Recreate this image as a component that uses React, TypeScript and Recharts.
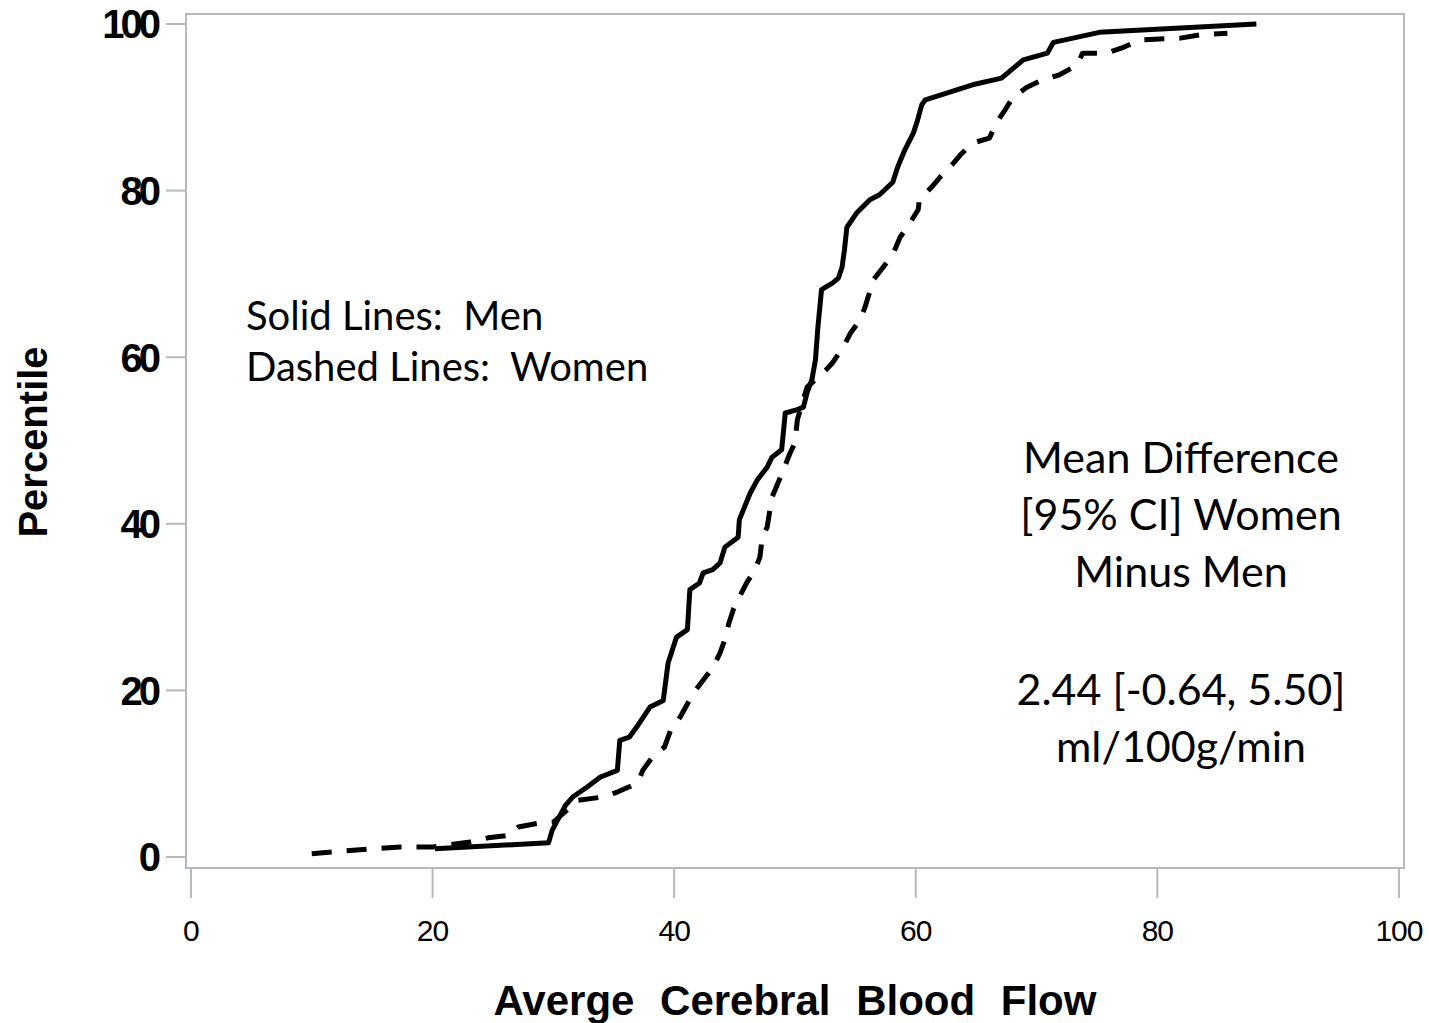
import React from "react";
import { Line, LineChart, ReferenceArea, XAxis, YAxis } from "recharts";

// Cumulative distribution of average cerebral blood flow, by sex
const menFlow = [
  20.2, 29.6, 29.9, 31.0, 31.6, 32.8, 33.9, 35.3, 35.5, 36.3, 36.9, 38.0, 39.1, 39.5, 40.2, 41.1, 41.3, 42.1,
  42.4, 43.2, 43.8, 44.2, 45.3, 45.4, 46.3, 46.9, 47.7, 48.1, 48.9, 49.2, 50.2, 50.7, 51.0, 51.4, 51.7, 51.9,
  52.2, 53.1, 53.6, 53.9, 54.1, 54.3, 55.1, 56.2, 57.0, 58.1, 58.5, 59.1, 59.8, 60.1, 60.5, 60.8, 64.7, 67.1,
  68.9, 70.9, 71.4, 75.2, 88.2,
];
const menPct = [
  1.0, 1.7, 3.2, 6.2, 7.2, 8.4, 9.6, 10.4, 14.0, 14.4, 15.6, 18.0, 18.8, 23.3, 26.4, 27.3, 32.1, 32.9, 34.1,
  34.5, 35.3, 37.2, 38.4, 40.5, 43.7, 45.3, 46.8, 48.0, 48.9, 53.3, 53.7, 54.0, 55.7, 57.3, 59.7, 63.6, 68.1,
  68.9, 69.5, 70.8, 72.9, 75.6, 77.3, 78.9, 79.5, 81.0, 82.8, 84.9, 86.9, 88.2, 90.3, 90.9, 92.7, 93.5, 95.7,
  96.5, 97.8, 99.0, 100,
];

const womenFlow = [
  10.0, 15.1, 17.3, 20.0, 23.1, 24.6, 26.4, 27.1, 28.9, 30.0, 31.1, 32.0, 34.1, 35.3, 37.0, 37.4, 38.2, 39.2,
  39.7, 40.5, 41.6, 42.6, 43.2, 43.8, 44.2, 44.5, 44.9, 45.4, 46.0, 46.7, 47.1, 47.3, 47.7, 48.1, 48.8, 49.6,
  50.0, 50.2, 51.0, 51.7, 52.6, 53.1, 54.0, 54.6, 55.4, 55.8, 56.5, 57.3, 58.1, 58.7, 59.3, 60.2, 60.3, 61.3,
  62.0, 63.0, 63.7, 64.7, 66.1, 66.7, 67.4, 68.0, 69.2, 70.5, 71.9, 73.4, 73.8, 75.8, 77.2, 78.6, 81.9, 83.5,
  85.8,
];
const womenPct = [
  0.4, 1.0, 1.2, 1.2, 1.8, 2.3, 2.6, 3.6, 4.1, 4.2, 5.6, 6.8, 7.2, 7.8, 8.9, 10.4, 12.0, 13.2, 15.2, 16.8,
  19.7, 21.6, 22.7, 24.5, 26.1, 27.9, 29.7, 31.2, 32.9, 34.5, 36.0, 38.4, 39.6, 43.2, 45.6, 48.5, 49.7, 52.5,
  56.4, 57.3, 58.5, 59.3, 61.2, 62.9, 64.5, 66.0, 69.3, 70.8, 72.3, 74.4, 75.6, 77.7, 78.9, 80.4, 81.6, 83.1,
  84.3, 85.7, 86.3, 88.2, 89.7, 91.1, 92.4, 93.3, 93.9, 95.1, 96.5, 96.5, 97.2, 98.1, 98.3, 98.7, 98.9,
];

const xTicks = [0, 20, 40, 60, 80, 100];
const yTicks = [0, 20, 40, 60, 80, 100];

const legendLines = ["Solid Lines:  Men", "Dashed Lines:  Women"];
const diffLines = ["Mean Difference", "[95% CI] Women", "Minus Men"];
const diffValueLines = ["2.44 [-0.64, 5.50]", "ml/100g/min"];

const menData = menFlow.map((flow, i) => ({ flow, pct: menPct[i] }));
const womenData = womenFlow.map((flow, i) => ({ flow, pct: womenPct[i] }));

// frame sits slightly outside the 0..100 tick range
const X_DOMAIN: [number, number] = [-0.41, 100.42];
const Y_DOMAIN: [number, number] = [-1.32, 101.2];

const AXIS = "#b4b9be";
const TICK_FONT = "'Liberation Sans', Arial, Helvetica, sans-serif";
const NOTE_FONT = "Lato, 'Open Sans', sans-serif";

function YTick(props: any) {
  const { x, y, payload } = props;
  return (
    <text x={x} y={y} dy="0.36em" textAnchor="end" fontFamily={TICK_FONT} fontWeight={700} fontSize={40} letterSpacing={-4} fill="#000">
      {payload.value}
    </text>
  );
}

function XTick(props: any) {
  const { x, y, payload } = props;
  return (
    <text x={x} y={y} dy="0.71em" textAnchor="middle" fontFamily={TICK_FONT} fontSize={30} letterSpacing={-1} fill="#000">
      {payload.value}
    </text>
  );
}

const noteBlock: React.CSSProperties = {
  position: "absolute",
  left: 981,
  width: 400,
  textAlign: "center",
  fontFamily: NOTE_FONT,
  fontSize: 43,
  lineHeight: "57px",
  whiteSpace: "pre",
};

export default function App() {
  return (
    <div style={{ position: "absolute", left: 0, top: 0, width: 1429, height: 1023, background: "#fff" }}>
      <LineChart width={1429} height={1023} margin={{ top: 14, right: 25, left: 0, bottom: 0 }}>
        <XAxis
          type="number"
          dataKey="flow"
          domain={X_DOMAIN}
          ticks={xTicks}
          allowDataOverflow
          height={155}
          tickSize={30}
          tickMargin={22}
          stroke={AXIS}
          strokeWidth={2}
          tick={<XTick />}
        />
        <YAxis
          type="number"
          dataKey="pct"
          domain={Y_DOMAIN}
          ticks={yTicks}
          allowDataOverflow
          width={186}
          tickSize={20}
          tickMargin={9}
          stroke={AXIS}
          strokeWidth={2}
          tick={<YTick />}
        />
        <ReferenceArea
          x1={X_DOMAIN[0]}
          x2={X_DOMAIN[1]}
          y1={Y_DOMAIN[0]}
          y2={Y_DOMAIN[1]}
          fill="none"
          stroke={AXIS}
          strokeWidth={2}
          ifOverflow="visible"
        />
        <Line
          data={womenData}
          dataKey="pct"
          type="linear"
          stroke="#000"
          strokeWidth={5}
          strokeDasharray="20 15"
          strokeLinejoin="round"
          dot={false}
          isAnimationActive={false}
        />
        <Line
          data={menData}
          dataKey="pct"
          type="linear"
          stroke="#000"
          strokeWidth={5}
          strokeLinejoin="round"
          dot={false}
          isAnimationActive={false}
        />
      </LineChart>

      <div
        style={{
          position: "absolute",
          left: 0,
          top: 977,
          width: 1590,
          textAlign: "center",
          fontFamily: TICK_FONT,
          fontWeight: 700,
          fontSize: 42,
          wordSpacing: 14,
          whiteSpace: "pre",
        }}
      >
        Averge Cerebral Blood Flow
      </div>
      <div
        style={{
          position: "absolute",
          left: 33,
          top: 442,
          transform: "translate(-50%, -50%) rotate(-90deg)",
          fontFamily: TICK_FONT,
          fontWeight: 700,
          fontSize: 40,
          whiteSpace: "pre",
        }}
      >
        Percentile
      </div>

      <div style={{ position: "absolute", left: 246, top: 290, fontFamily: NOTE_FONT, fontSize: 40, lineHeight: "51px", whiteSpace: "pre" }}>
        {legendLines.map((t) => (
          <div key={t}>{t}</div>
        ))}
      </div>
      <div style={{ ...noteBlock, top: 428 }}>
        {diffLines.map((t) => (
          <div key={t}>{t}</div>
        ))}
      </div>
      <div style={{ ...noteBlock, top: 660 }}>
        {diffValueLines.map((t) => (
          <div key={t}>{t}</div>
        ))}
      </div>
    </div>
  );
}
